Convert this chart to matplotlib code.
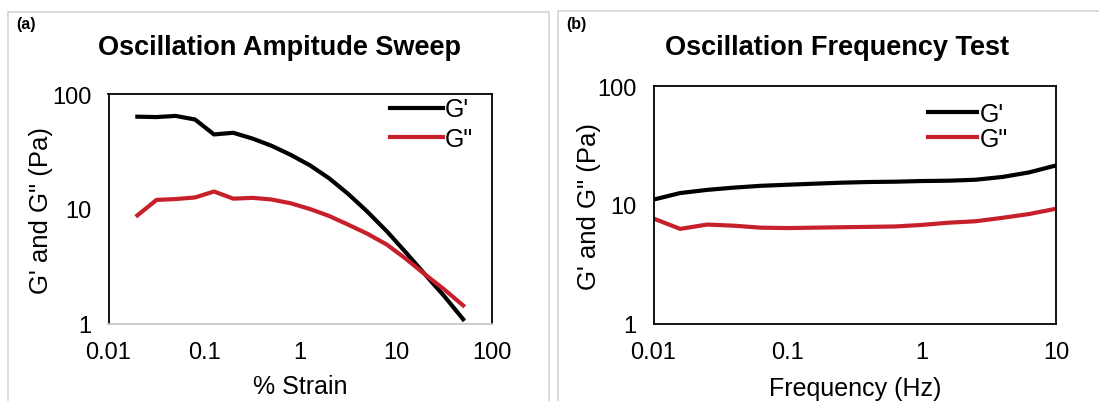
import matplotlib
matplotlib.use('Agg')
import matplotlib.pyplot as plt
from matplotlib.patches import Rectangle

plt.rcParams['font.family'] = ['Liberation Sans', 'DejaVu Sans']

# (a) amplitude sweep
strain = [0.02, 0.0317, 0.05, 0.08, 0.126, 0.2, 0.317, 0.5, 0.8, 1.26,
          2, 3.17, 5, 8, 12.6, 20, 31.7, 50]
g1_strain = [63.5, 63, 64.5, 60, 44.5, 46, 41, 35.5, 29.5, 24,
             18.5, 13.5, 9.5, 6.4, 4.2, 2.7, 1.75, 1.1]
g2_strain = [8.8, 12.0, 12.2, 12.6, 14.2, 12.3, 12.5, 12.1, 11.2, 10.0,
             8.7, 7.3, 6.1, 4.9, 3.7, 2.7, 2.0, 1.45]

# (b) frequency test
freq = [0.01, 0.0158, 0.0251, 0.0398, 0.0631, 0.1, 0.158, 0.251, 0.398,
        0.631, 1, 1.58, 2.51, 3.98, 6.31, 10]
g1_freq = [11.1, 12.6, 13.4, 14.0, 14.5, 14.8, 15.1, 15.4, 15.6,
           15.7, 15.9, 16.0, 16.3, 17.2, 18.8, 21.5]
g2_freq = [7.7, 6.3, 6.85, 6.7, 6.45, 6.4, 6.45, 6.5, 6.55,
           6.6, 6.8, 7.1, 7.3, 7.8, 8.4, 9.3]

W, H = 1099, 402
fig = plt.figure(figsize=(W / 100, H / 100), dpi=100)
fig.set_facecolor('white')

# grey panel frames
fig.add_artist(Rectangle((8 / W, -0.1), 541 / W, 1.1 - 13 / H, transform=fig.transFigure,
                         fill=False, edgecolor='#d4d4d4', lw=1.2))
fig.add_artist(Rectangle((558 / W, -0.1), 560 / W, 1.1 - 12 / H, transform=fig.transFigure,
                         fill=False, edgecolor='#d4d4d4', lw=1.2))

fig.text(16 / W, 1 - 24 / H, '(a)', fontsize=11.5, fontweight='bold', va='center')
fig.text(566 / W, 1 - 24 / H, '(b)', fontsize=11.5, fontweight='bold', va='center')
fig.text(279 / W, 1 - 48 / H, 'Oscillation Ampitude Sweep', fontsize=19.5,
         fontweight='bold', ha='center', va='center')
fig.text(837 / W, 1 - 48 / H, 'Oscillation Frequency Test', fontsize=19.5,
         fontweight='bold', ha='center', va='center')

red = '#c8202a'


def setup(ax, xlim, xticks, xlabel, ylab_x, bottom_color):
    ax.set_xscale('log')
    ax.set_yscale('log')
    ax.set_xlim(*xlim)
    ax.set_ylim(1, 100)
    ax.set_xticks(xticks)
    ax.set_xticklabels([('%g' % t) for t in xticks])
    ax.set_yticks([1, 10, 100])
    ax.set_yticklabels(['1', '10', '100'])
    ax.minorticks_off()
    ax.tick_params(length=0, labelsize=17, pad=12)
    for s in ax.spines.values():
        s.set_linewidth(1.3)
        s.set_color('black')
    ax.spines['bottom'].set_color(bottom_color)
    ax.set_xlabel(xlabel, fontsize=18)
    ax.set_ylabel('G\' and G" (Pa)', fontsize=18.5)
    ax.xaxis.set_label_coords(0.5, -0.27)
    ax.xaxis.label.set_va('center')
    ax.yaxis.set_label_coords(ylab_x, 0.5)
    ax.yaxis.label.set_va('center')


ax1 = fig.add_axes([108.5 / W, 77 / H, 383.5 / W, 230 / H])
ax1.plot(strain, g1_strain, color='black', lw=3, label="G'")
ax1.plot(strain, g2_strain, color=red, lw=3, label='G"')
setup(ax1, (0.01, 100), [0.01, 0.1, 1, 10, 100], '% Strain', -0.175, '#c8c8c8')
ax1.legend(loc='upper left', bbox_to_anchor=(0.702, 1.04), frameon=False, fontsize=18,
           handlelength=2.1, handletextpad=0.1, labelspacing=0.22, borderaxespad=0.1)

ax2 = fig.add_axes([653.5 / W, 77 / H, 402.5 / W, 238 / H])
ax2.plot(freq, g1_freq, color='black', lw=3, label="G'")
ax2.plot(freq, g2_freq, color=red, lw=3, label='G"')
setup(ax2, (0.01, 10), [0.01, 0.1, 1, 10], 'Frequency (Hz)', -0.16, 'black')
ax2.legend(loc='upper left', bbox_to_anchor=(0.652, 0.985), frameon=False, fontsize=18,
           handlelength=1.95, handletextpad=0.1, labelspacing=0.02, borderaxespad=0.1)

fig.savefig('out.png', dpi=100)
